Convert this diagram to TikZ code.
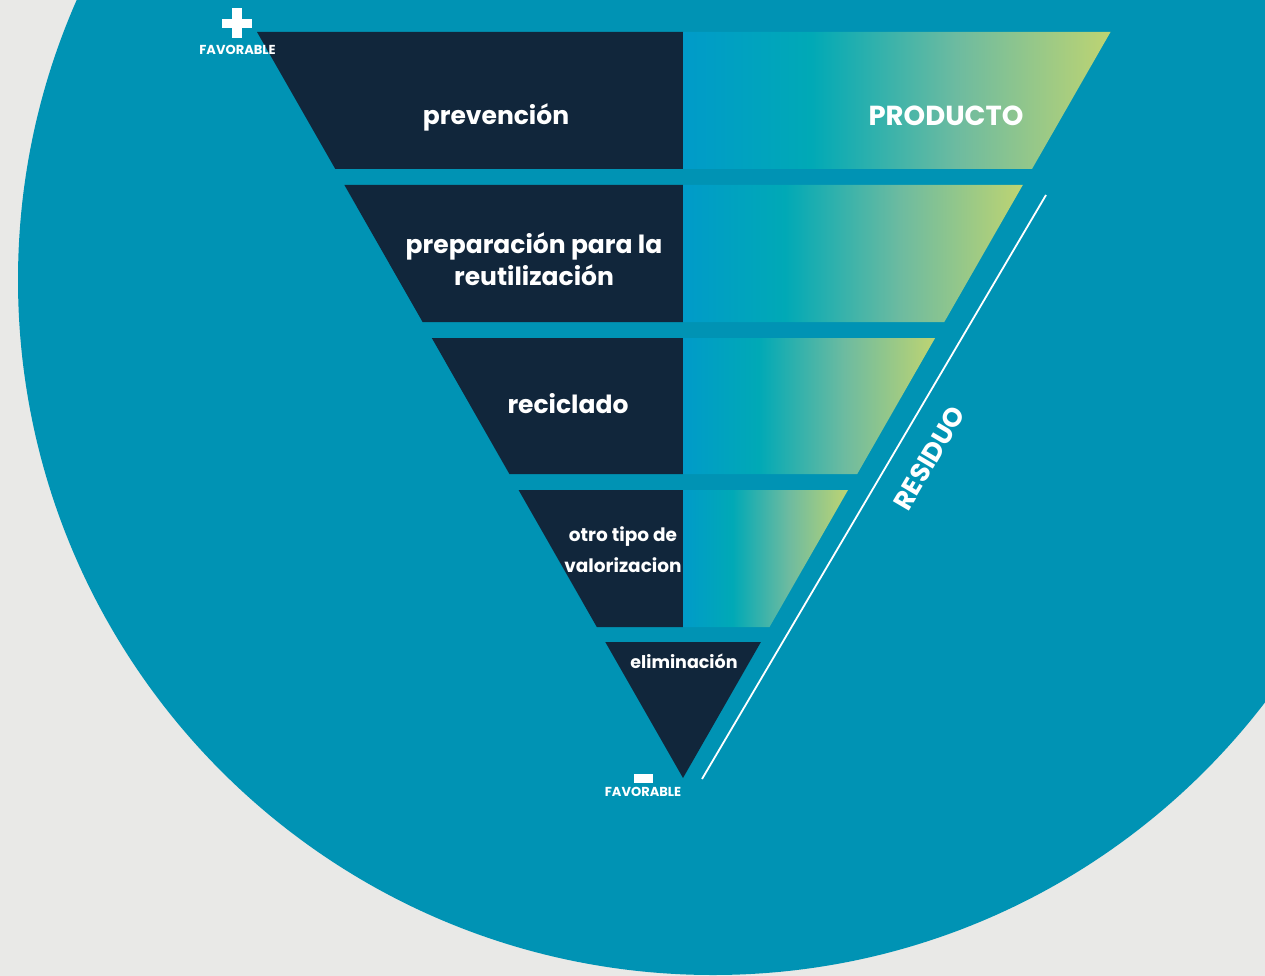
\documentclass[tikz,border=0pt]{standalone}
\usepackage{fontspec}
\setmainfont{Poppins}
\definecolor{bg}{HTML}{E9E9E7}
\definecolor{circ}{HTML}{0093B4}
\definecolor{navy}{HTML}{11263B}
\definecolor{gA}{HTML}{009BC9}
\definecolor{gB}{HTML}{00A9B6}
\definecolor{gM}{HTML}{6DBBA0}
\definecolor{gC}{HTML}{BED472}
\pgfdeclarehorizontalshading{bandgrad}{100bp}{color(0bp)=(gA); color(25bp)=(gA); color(40bp)=(gB); color(57bp)=(gM); color(75bp)=(gC); color(100bp)=(gC)}
\begin{document}
\begin{tikzpicture}[x=1pt,y=-1pt,
  darkpart/.style={fill=navy},
  gradpart/.style={shading=bandgrad},
  bigtxt/.style={text=white,font=\bfseries\fontsize{25}{29}\selectfont,inner sep=0pt,anchor=base},
  midtxt/.style={text=white,font=\bfseries\fontsize{18.5}{22}\selectfont,inner sep=0pt,anchor=base},
  smalltxt/.style={text=white,font=\bfseries\fontsize{13}{15}\selectfont,inner sep=0pt,anchor=base}]
\useasboundingbox (0,0) rectangle (1265,976);
\clip (0,0) rectangle (1265,976);
\fill[bg] (0,0) rectangle (1265,976);
\fill[circ] (713,280) circle[radius=695];
% band 1
\fill[darkpart] (257,32) -- (683,32) -- (683,169) -- (335.3,169) -- cycle;
\shade[gradpart] (683,32) -- (1110.5,32) -- (1032,169) -- (683,169) -- cycle;
% band 2
\fill[darkpart] (344.4,185) -- (683,185) -- (683,322) -- (422.6,322) -- cycle;
\shade[gradpart] (683,185) -- (1022.8,185) -- (944.3,322) -- (683,322) -- cycle;
% band 3
\fill[darkpart] (431.8,338) -- (683,338) -- (683,474) -- (509.4,474) -- cycle;
\shade[gradpart] (683,338) -- (935.1,338) -- (857.2,474) -- (683,474) -- cycle;
% band 4
\fill[darkpart] (518.6,490) -- (683,490) -- (683,627) -- (596.8,627) -- cycle;
\shade[gradpart] (683,490) -- (848,490) -- (769.5,627) -- (683,627) -- cycle;
% band 5
\fill[darkpart] (605.3,642) -- (760.9,642) -- (683,778) -- cycle;
% residuo line
\coordinate (lineA) at (702,779);
\coordinate (lineB) at (1046,195);
\draw[white,line width=1.8pt] (lineA) -- (lineB);
\node[text=white,font=\bfseries\fontsize{26.5}{30}\selectfont,rotate=59.5,inner sep=0pt] (residuo) at (929,458) {RESIDUO};
% plus / minus
\fill[white] (222,19) rectangle (252,28);
\fill[white] (232,8) rectangle (242,38);
\node[smalltxt] (favtop) at (237.5,54.5) {FAVORABLE};
\fill[white] (634,774) rectangle (653,783);
\node[smalltxt] (favbot) at (643,796.5) {FAVORABLE};
% texts
\node[bigtxt] (prev) at (496,125) {prevención};
\node[bigtxt,font=\bfseries\fontsize{27.5}{31}\selectfont] (prod) at (946,125.5) {PRODUCTO};
\node[bigtxt] (prep1) at (534,253) {preparación para la};
\node[bigtxt] (prep2) at (534,285) {reutilización};
\node[bigtxt] (recic) at (568,413) {reciclado};
\node[midtxt] (otro1) at (623,541.5) {otro tipo de};
\node[midtxt] (otro2) at (623,572.5) {valorizacion};
\node[midtxt,font=\bfseries\fontsize{17.5}{21}\selectfont] (elim) at (684,668) {eliminación};
\end{tikzpicture}
\end{document}
